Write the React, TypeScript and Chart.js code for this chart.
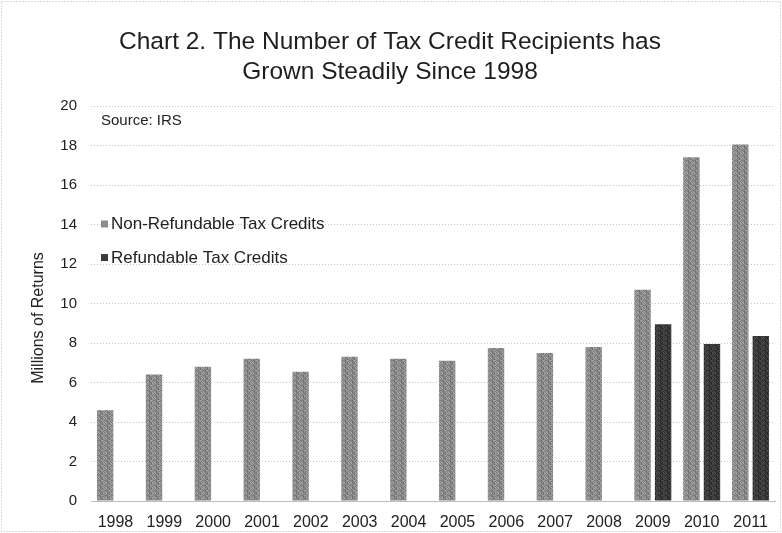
import React, { useEffect, useRef } from "react";
import { Chart, registerables } from "chart.js";

Chart.register(...registerables);

const years = ["1998","1999","2000","2001","2002","2003","2004","2005","2006","2007","2008","2009","2010","2011"];
const nonRefundable = [4.6, 6.4, 6.8, 7.2, 6.55, 7.3, 7.2, 7.1, 7.75, 7.5, 7.8, 10.7, 17.4, 18.05];
const refundable = [0, 0, 0, 0, 0, 0, 0, 0, 0, 0, 0, 8.95, 7.95, 8.35];
const titleLines = ["Chart 2. The Number of Tax Credit Recipients has", "Grown Steadily Since 1998"];
const seriesNames = ["Non-Refundable Tax Credits", "Refundable Tax Credits"];
const sourceText = "Source: IRS";
const yTitle = "Millions of Returns";

const FONT = "'Liberation Sans', Arial, sans-serif";
const C1 = "#8b8b8b";
const C2 = "#3a3a3a";

function makePattern(base: number, spread: number): CanvasPattern | string {
  const W = 7, H = 5;
  const c = document.createElement("canvas");
  c.width = W;
  c.height = H;
  const g = c.getContext("2d");
  if (!g) return `rgb(${base},${base},${base})`;
  const img = g.createImageData(W, H);
  for (let i = 0; i < W * H; i++) {
    // deterministic dither texture (style only)
    const h = (i * i * 31 + i * 17 + 7) % 23;
    const v = Math.max(0, Math.min(255, base + ((h - 11) * spread) / 11));
    img.data[i * 4] = v;
    img.data[i * 4 + 1] = v;
    img.data[i * 4 + 2] = v;
    img.data[i * 4 + 3] = 255;
  }
  g.putImageData(img, 0, 0);
  return g.createPattern(c, "repeat") || `rgb(${base},${base},${base})`;
}

function drawText(ctx: CanvasRenderingContext2D, text: string, x: number, y: number, size: number, align: CanvasTextAlign) {
  ctx.save();
  ctx.font = `${size}px ${FONT}`;
  ctx.textAlign = align;
  ctx.textBaseline = "middle";
  ctx.fillText(text, x, y);
  ctx.restore();
}

const overlayPlugin = {
  id: "overlay",
  afterDraw(chart: any) {
    const ctx = chart.ctx as CanvasRenderingContext2D;
    const a = chart.chartArea;
    ctx.save();
    ctx.fillStyle = "#1e1e1e";
    drawText(ctx, titleLines[0], 390, 42, 24.5, "center");
    drawText(ctx, titleLines[1], 390, 72, 24.5, "center");
    ctx.fillStyle = "#222";
    drawText(ctx, sourceText, a.left + 10, 121, 15, "left");
    const colors = [C1, C2];
    const ys = [chart.scales.y.getPixelForValue(14), chart.scales.y.getPixelForValue(12.3)];
    seriesNames.forEach((n, i) => {
      ctx.fillStyle = colors[i];
      ctx.fillRect(a.left + 10, ys[i] - 4, 7, 7);
      ctx.fillStyle = "#222";
      drawText(ctx, n, a.left + 20, ys[i], 17, "left");
    });
    ctx.save();
    ctx.translate(39, 318);
    ctx.rotate(-Math.PI / 2);
    ctx.fillStyle = "#222";
    drawText(ctx, yTitle, 0, 0, 16, "center");
    ctx.restore();
    ctx.strokeStyle = "#b5b5b5";
    ctx.setLineDash([1, 2]);
    ctx.lineWidth = 1;
    ctx.strokeRect(1.5, 1.5, chart.width - 3, chart.height - 3);
    ctx.restore();
  },
};

export default function App() {
  const ref = useRef<HTMLCanvasElement>(null);
  useEffect(() => {
    document.body.style.margin = "0";
    const p1 = makePattern(139, 40);
    const p2 = makePattern(58, 30);
    const chart = new Chart(ref.current!, {
      type: "bar",
      data: {
        labels: years,
        datasets: [
          { label: seriesNames[0], data: nonRefundable, backgroundColor: p1 as any, categoryPercentage: 0.84, barPercentage: 0.8 },
          { label: seriesNames[1], data: refundable, backgroundColor: p2 as any, categoryPercentage: 0.84, barPercentage: 0.8 },
        ],
      },
      plugins: [overlayPlugin],
      options: {
        responsive: false,
        animation: false,
        layout: { padding: { left: 28, right: 7, top: 106, bottom: 4 } },
        plugins: { legend: { display: false }, title: { display: false }, tooltip: { enabled: false } },
        scales: {
          x: {
            grid: { display: false, drawTicks: false },
            border: { display: true, color: "#bdbdbd", dash: [1, 2] },
            ticks: { color: "#222", font: { family: FONT, size: 16 }, padding: 12, maxRotation: 0 },
            afterFit: (s: any) => { s.height = 28; },
          },
          y: {
            min: 0,
            max: 20,
            ticks: { stepSize: 2, color: "#222", font: { family: FONT, size: 15 }, padding: 14 },
            grid: { color: "#c4c4c4", drawTicks: false },
            border: { display: false, dash: [1, 2] },
            afterFit: (s: any) => { s.width = 63; },
          },
        },
      },
    });
    return () => chart.destroy();
  }, []);
  return (
    <div style={{ width: 782, height: 533 }}>
      <canvas ref={ref} width={782} height={533} style={{ display: "block" }} />
    </div>
  );
}
